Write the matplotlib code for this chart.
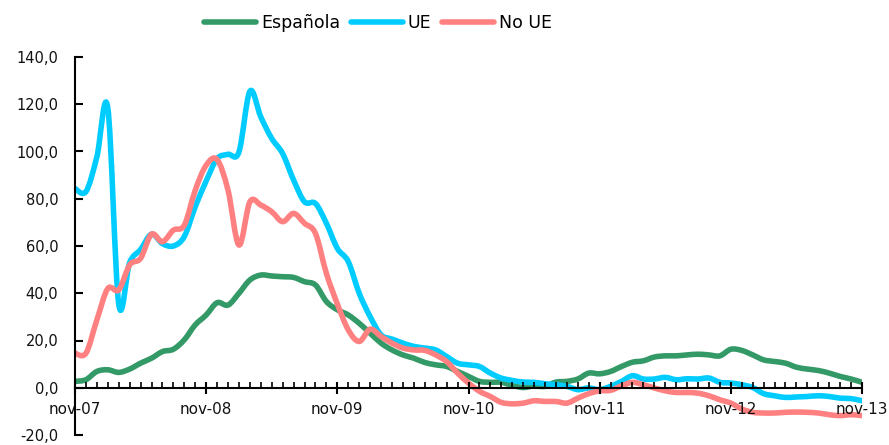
import matplotlib
matplotlib.use("Agg")
import matplotlib.pyplot as plt
from matplotlib.ticker import FuncFormatter, MultipleLocator, FixedLocator
from matplotlib.path import Path
from matplotlib.patches import PathPatch
from matplotlib.lines import Line2D

months = ["nov-07", "nov-08", "nov-09", "nov-10", "nov-11", "nov-12", "nov-13"]

espanola = [2.7, 3.4, 6.9, 7.6, 6.5, 7.9, 10.4, 12.5, 15.3, 16.3, 20.3, 26.6,
            30.8, 36.0, 35.0, 40.0, 45.6, 47.7, 47.3, 47.0, 46.7, 44.9, 43.5, 36.5,
            33.0, 30.8, 27.3, 23.1, 18.9, 16.0, 13.9, 12.5, 10.7, 9.7, 9.0, 6.9,
            4.8, 2.7, 2.3, 2.3, 1.0, 0.1, 0.8, 0.6, 2.4, 2.7, 3.7, 6.2,
            5.9, 6.9, 9.0, 10.8, 11.4, 13.0, 13.5, 13.5, 13.9, 14.2, 13.9, 13.5,
            16.3, 15.8, 13.9, 11.8, 11.1, 10.4, 8.7, 7.9, 7.3, 6.2, 4.8, 3.7, 2.3]

ue = [84.3, 83.0, 97.7, 118.5, 35.5, 53.0, 58.5, 65.0, 61.0, 60.0, 64.0, 76.6,
      87.5, 97.0, 98.8, 99.8, 125.5, 114.6, 105.5, 99.1, 87.9, 78.7, 78.0, 69.6,
      59.0, 53.4, 40.0, 30.1, 22.4, 20.6, 18.9, 17.5, 16.8, 16.0, 13.2, 10.4,
      9.7, 9.0, 6.2, 4.1, 3.1, 2.4, 2.3, 1.7, 1.3, 0.6, -0.8, -0.1,
      -0.8, 0.6, 2.7, 5.1, 3.7, 3.7, 4.4, 3.4, 3.8, 3.7, 4.1, 2.3,
      2.0, 1.3, 0.1, -2.5, -3.4, -4.1, -3.9, -3.7, -3.4, -3.7, -4.4, -4.6, -5.5]

no_ue = [14.6, 14.6, 28.7, 42.0, 41.4, 52.0, 54.8, 65.0, 61.8, 66.7, 68.8, 83.6,
         94.2, 96.6, 83.6, 60.4, 78.7, 77.3, 74.5, 70.3, 73.8, 69.6, 65.3, 48.4,
         35.5, 24.5, 19.6, 24.8, 21.7, 18.9, 16.8, 16.0, 15.8, 13.9, 11.1, 6.2,
         2.0, -1.5, -3.7, -6.2, -6.8, -6.5, -5.5, -5.8, -5.8, -6.5, -4.4, -2.5,
         -1.3, -1.1, 0.8, 2.3, 1.3, -0.1, -1.3, -2.0, -2.0, -2.3, -3.4, -5.1,
         -6.5, -9.0, -10.4, -10.7, -10.7, -10.4, -10.3, -10.4, -10.7, -11.4, -11.8, -11.4, -11.8]

series = [("Española", espanola, "#339966"),
          ("UE", ue, "#00CCFF"),
          ("No UE", no_ue, "#FF8080")]

plt.rcParams['font.family'] = ['DejaVu Sans']

fig = plt.figure(figsize=(8.89, 4.45), dpi=100)
ax = fig.add_axes([75/889, 10/445, (862-75)/889, (435-57)/445])


def smooth_path(ys):
    # Bezier-smoothed line through the data points (like a "smoothed line" chart)
    n = len(ys)
    pts = [(float(i), float(v)) for i, v in enumerate(ys)]
    verts = [pts[0]]
    codes = [Path.MOVETO]
    for i in range(n - 1):
        p0 = pts[i - 1] if i > 0 else pts[i]
        p1 = pts[i]
        p2 = pts[i + 1]
        p3 = pts[i + 2] if i + 2 < n else pts[i + 1]
        c1 = (p1[0] + (p2[0] - p0[0]) / 6.0, p1[1] + (p2[1] - p0[1]) / 6.0)
        c2 = (p2[0] - (p3[0] - p1[0]) / 6.0, p2[1] - (p3[1] - p1[1]) / 6.0)
        verts += [c1, c2, p2]
        codes += [Path.CURVE4, Path.CURVE4, Path.CURVE4]
    return Path(verts, codes)


lw = 4.0
handles = []
for name, ys, col in series:
    patch = PathPatch(smooth_path(ys), facecolor="none", edgecolor=col, lw=lw,
                      joinstyle="round", capstyle="round")
    ax.add_patch(patch)
    handles.append(Line2D([], [], color=col, lw=lw, solid_capstyle="round", label=name))

ax.set_xlim(0, 72)
ax.set_ylim(-20, 140)
ax.spines['top'].set_visible(False)
ax.spines['right'].set_visible(False)
ax.spines['bottom'].set_position(('data', 0))
ax.spines['bottom'].set_linewidth(1.5)
ax.spines['left'].set_linewidth(1.5)

ax.xaxis.set_major_locator(FixedLocator([0, 12, 24, 36, 48, 60, 72]))
ax.set_xticklabels(months)
ax.xaxis.set_minor_locator(MultipleLocator(1))
ax.tick_params(axis='x', which='major', direction='inout', length=8, width=1.5, labelsize=11, pad=6)
ax.tick_params(axis='x', which='minor', direction='in', length=4, width=1.2)

ax.yaxis.set_major_locator(MultipleLocator(20))
ax.yaxis.set_major_formatter(FuncFormatter(lambda v, p: f"{v:.1f}".replace(".", ",")))
ax.tick_params(axis='y', which='major', direction='in', length=6, width=1.5, labelsize=10.5, pad=12)

for lbl in ax.get_xticklabels() + ax.get_yticklabels():
    lbl.set_color("#111111")

fig.legend(handles=handles, loc='center', bbox_to_anchor=(378/889, 1-23/445), ncol=3,
           frameon=False, fontsize=12.5, handlelength=3.0, columnspacing=0.6, handletextpad=0.3)

fig.savefig("out.png", dpi=100)
